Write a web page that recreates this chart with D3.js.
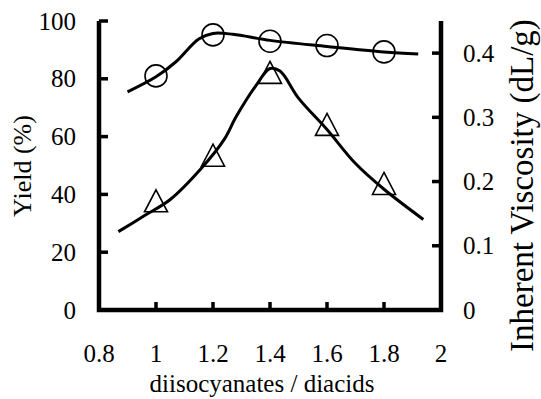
<!DOCTYPE html>
<html>
<head>
<meta charset="utf-8">
<script src="https://cdn.jsdelivr.net/npm/d3@7"></script>
<style>
  body { margin: 0; background: #fff; }
  svg { display: block; }
  text { font-family: "Liberation Serif", "Times New Roman", serif; fill: #000; }
</style>
</head>
<body>
<svg width="541" height="399"></svg>
<script>
// measured points (diisocyanates / diacids ratio)
const ratio = [1.0, 1.2, 1.4, 1.6, 1.8];
const yieldVals = [81, 95.2, 93, 91.5, 89.3];          // circles, left axis (%)
const viscVals = [0.17, 0.241, 0.37, 0.289, 0.197];    // triangles, right axis (dL/g)

// smooth trend lines
const yieldFitX = [0.9, 1.0, 1.07, 1.15, 1.2, 1.27, 1.4, 1.6, 1.8, 1.92];
const yieldFit = [75.5, 80.7, 85.9, 93.8, 95.7, 95.4, 93.3, 91.2, 89.3, 88.6];
const viscFitX = [0.868, 0.96, 1.05, 1.16, 1.24, 1.28, 1.35, 1.4, 1.435, 1.5, 1.6, 1.7, 1.8, 1.938];
const viscFit = [0.122, 0.147, 0.172, 0.221, 0.266, 0.30, 0.349, 0.376, 0.372, 0.33, 0.281, 0.228, 0.188, 0.141];

const xTicks = [0.8, 1, 1.2, 1.4, 1.6, 1.8, 2];
const yTicks = [0, 20, 40, 60, 80, 100];
const y2Ticks = [0, 0.1, 0.2, 0.3, 0.4];

const svg = d3.select("svg");
const plotLeft = 99, plotRight = 441, plotTop = 21, plotBottom = 310;
const serif = "Liberation Serif";

const x = d3.scaleLinear().domain([0.8, 2]).range([plotLeft, plotRight]);
const y = d3.scaleLinear().domain([0, 100]).range([plotBottom, plotTop]);
const y2 = d3.scaleLinear().domain([0, 0.45]).range([plotBottom, plotTop]);

const fmt = d => d3.format("~g")(d);

// axis frame (left, bottom, right), thick black
svg.append("path")
    .attr("d", `M${x(0.8)},${y(100)}V${y(0)}H${x(2)}V${y2(0.45)}`)
    .attr("fill", "none")
    .attr("stroke", "#000")
    .attr("stroke-width", 4.5)
    .attr("stroke-linejoin", "miter");

// ticks pointing into the plot
const ticks = svg.append("g").attr("stroke", "#000").attr("stroke-width", 3.5);
ticks.selectAll(".tx").data(xTicks).join("line")
    .attr("x1", d => x(d)).attr("x2", d => x(d))
    .attr("y1", plotBottom).attr("y2", plotBottom - 8);
ticks.selectAll(".ty").data(yTicks).join("line")
    .attr("x1", plotLeft).attr("x2", plotLeft + 9)
    .attr("y1", d => y(d)).attr("y2", d => y(d));
ticks.selectAll(".ty2").data(y2Ticks).join("line")
    .attr("x1", plotRight).attr("x2", plotRight - 9)
    .attr("y1", d => y2(d)).attr("y2", d => y2(d));

// tick labels
const labels = svg.append("g").attr("font-family", serif).attr("font-size", 25);
labels.selectAll(".lx").data(xTicks).join("text")
    .attr("x", d => x(d)).attr("y", 362)
    .attr("text-anchor", "middle")
    .text(fmt);
labels.selectAll(".ly").data(yTicks).join("text")
    .attr("x", plotLeft - 23).attr("y", d => y(d))
    .attr("dy", "0.34em")
    .attr("text-anchor", "end")
    .text(fmt);
labels.selectAll(".ly2").data(y2Ticks).join("text")
    .attr("x", plotRight + 22).attr("y", d => y2(d))
    .attr("dy", "0.34em")
    .attr("text-anchor", "start")
    .text(fmt);

// trend lines
const trend = sy => d3.line().x(d => x(d[0])).y(d => sy(d[1])).curve(d3.curveCatmullRom);

svg.append("path")
    .datum(d3.zip(yieldFitX, yieldFit))
    .attr("d", trend(y))
    .attr("fill", "none").attr("stroke", "#000").attr("stroke-width", 3);

svg.append("path")
    .datum(d3.zip(viscFitX, viscFit))
    .attr("d", trend(y2))
    .attr("fill", "none").attr("stroke", "#000").attr("stroke-width", 3);

// markers
svg.append("g").selectAll("circle")
    .data(d3.zip(ratio, yieldVals))
    .join("circle")
    .attr("cx", d => x(d[0])).attr("cy", d => y(d[1]))
    .attr("r", 11)
    .attr("fill", "none").attr("stroke", "#000").attr("stroke-width", 1.6);

const tw = 23, th = 22;
svg.append("g").selectAll("path")
    .data(d3.zip(ratio, viscVals))
    .join("path")
    .attr("transform", d => `translate(${x(d[0])},${y2(d[1])})`)
    .attr("d", `M0,${-th / 2}L${tw / 2},${th / 2}L${-tw / 2},${th / 2}Z`)
    .attr("fill", "none").attr("stroke", "#000").attr("stroke-width", 1.6);

// titles
svg.append("text")
    .attr("x", 262).attr("y", 392)
    .attr("text-anchor", "middle")
    .style("font-family", serif)
    .style("font-size", "25px")
    .text("diisocyanates / diacids");

svg.append("text")
    .attr("transform", "translate(31,166) rotate(-90)")
    .attr("text-anchor", "middle")
    .style("font-family", serif)
    .style("font-size", "26px")
    .text("Yield (%)");

svg.append("text")
    .attr("transform", "translate(533,352) rotate(-90)")
    .attr("text-anchor", "start")
    .style("font-family", serif)
    .style("font-size", "33px")
    .text("Inherent Viscosity (dL/g)");
</script>
</body>
</html>
